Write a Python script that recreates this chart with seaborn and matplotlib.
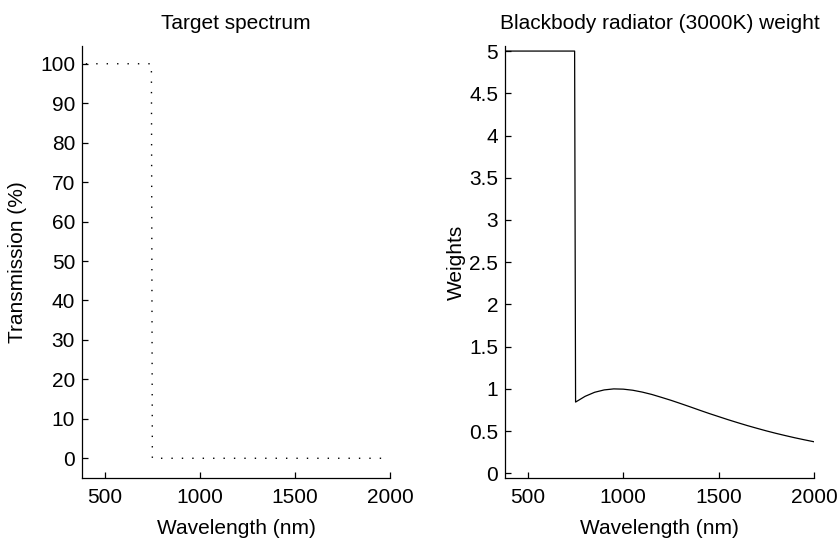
import matplotlib
matplotlib.use("Agg")
import matplotlib.pyplot as plt
import seaborn as sns
import pandas as pd

# Target transmission spectrum (ideal short-pass step)
target_wavelength = [400, 745, 750, 2000]
target_transmission = [100, 100, 0, 0]

# Weighting: flat 5 below the cut-off, normalised 3000 K blackbody above it
weight_wavelength = [380, 745, 750, 800, 850, 900, 950, 1000, 1050, 1100, 1150,
                     1200, 1250, 1300, 1350, 1400, 1450, 1500, 1550, 1600,
                     1650, 1700, 1750, 1800, 1850, 1900, 1950, 2000]
weight_values = [5.0, 5.0, 0.844, 0.912, 0.960, 0.988, 1.000, 0.997, 0.984,
                 0.962, 0.934, 0.900, 0.865, 0.827, 0.788, 0.748, 0.709,
                 0.672, 0.635, 0.600, 0.566, 0.534, 0.503, 0.474, 0.447,
                 0.421, 0.397, 0.374]

x_ticks = [500, 1000, 1500, 2000]
left_yticks = [0, 10, 20, 30, 40, 50, 60, 70, 80, 90, 100]
right_yticks = [0, 0.5, 1, 1.5, 2, 2.5, 3, 3.5, 4, 4.5, 5]
right_yticklabels = ["0", "0.5", "1", "1.5", "2", "2.5", "3", "3.5", "4", "4.5", "5"]

sns.set_style("ticks")
plt.rcParams["font.family"] = ["Liberation Sans", "DejaVu Sans"]
plt.rcParams["font.size"] = 15
plt.rcParams["text.color"] = "black"
plt.rcParams["axes.labelcolor"] = "black"
plt.rcParams["xtick.color"] = "black"
plt.rcParams["ytick.color"] = "black"

target_df = pd.DataFrame({"wavelength": target_wavelength,
                          "transmission": target_transmission})
weight_df = pd.DataFrame({"wavelength": weight_wavelength,
                          "weight": weight_values})

fig = plt.figure(figsize=(8.4, 5.4), dpi=100)
ax1 = fig.add_axes([82 / 840, 1 - 478 / 540, 308 / 840, 432 / 540])
ax2 = fig.add_axes([505 / 840, 1 - 478 / 540, 309 / 840, 432 / 540])

sns.lineplot(data=target_df, x="wavelength", y="transmission", ax=ax1,
             color="black", linewidth=1.0, linestyle=(0, (1, 6.5)), sort=False)
sns.lineplot(data=weight_df, x="wavelength", y="weight", ax=ax2,
             color="black", linewidth=0.9, sort=False)

ax1.set_xlim(380, 2000)
ax1.set_ylim(-5, 104.5)
ax1.set_yticks(left_yticks)
ax1.set_title("Target spectrum", fontsize=15, pad=12, color="black")
ax1.set_ylabel("Transmission (%)", fontsize=15, labelpad=9)

ax2.set_xlim(380, 2000)
ax2.set_ylim(-0.055, 5.06)
ax2.set_yticks(right_yticks)
ax2.set_yticklabels(right_yticklabels)
ax2.set_title("Blackbody radiator (3000K) weight", fontsize=15, pad=12,
              color="black")
ax2.set_ylabel("Weights", fontsize=15, labelpad=2)

for ax in (ax1, ax2):
    ax.set_xticks(x_ticks)
    ax.set_xlabel("Wavelength (nm)", fontsize=15, labelpad=9)
    sns.despine(ax=ax)
    ax.spines["left"].set_linewidth(0.9)
    ax.spines["bottom"].set_linewidth(0.9)
    ax.spines["left"].set_color("black")
    ax.spines["bottom"].set_color("black")
    ax.tick_params(direction="in", length=4, width=0.9, color="black",
                   labelcolor="black", labelsize=15, pad=5)
    ax.tick_params(axis="x", pad=7)

fig.savefig("out.png", dpi=100)
